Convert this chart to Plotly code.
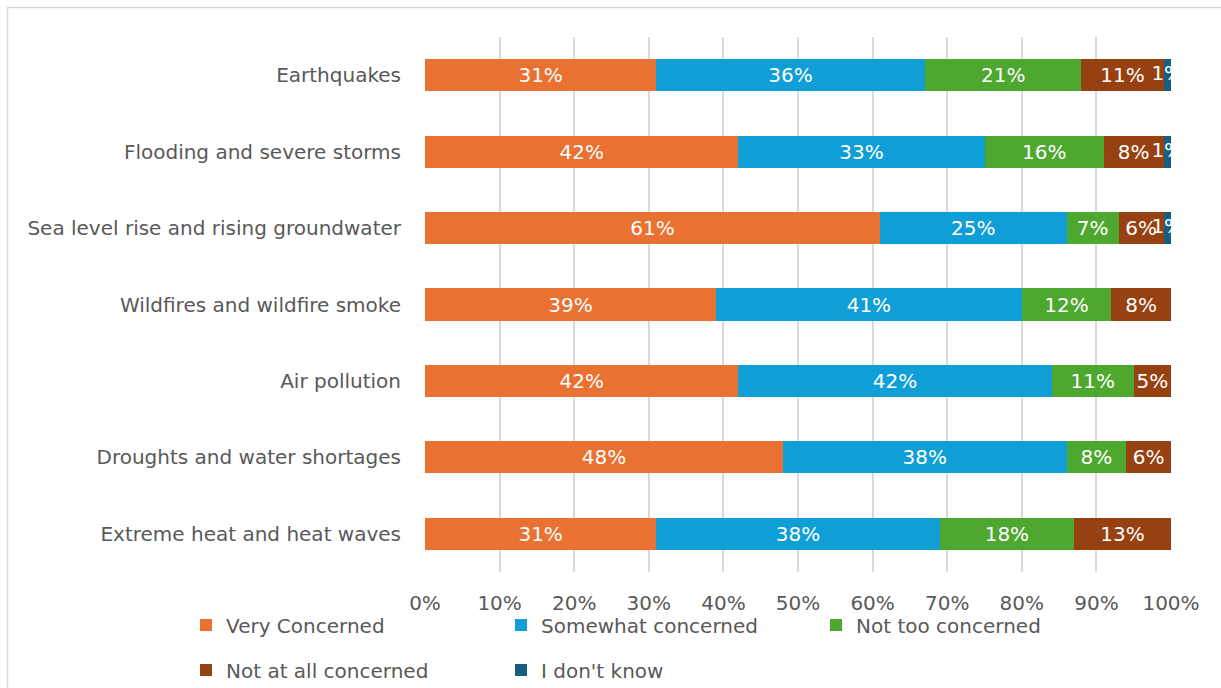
import plotly.graph_objects as go

# Survey categories (top to bottom as shown)
categories = [
    "Earthquakes",
    "Flooding and severe storms",
    "Sea level rise and rising groundwater",
    "Wildfires and wildfire smoke",
    "Air pollution",
    "Droughts and water shortages",
    "Extreme heat and heat waves",
]

# Share of respondents per answer (percent)
very_concerned = [31, 42, 61, 39, 42, 48, 31]
somewhat_concerned = [36, 33, 25, 41, 42, 38, 38]
not_too_concerned = [21, 16, 7, 12, 11, 8, 18]
not_at_all_concerned = [11, 8, 6, 8, 5, 6, 13]
dont_know = [1, 1, 1, 0, 0, 0, 0]

series_names = ["Very Concerned", "Somewhat concerned", "Not too concerned",
                "Not at all concerned", "I don't know"]
series_values = [very_concerned, somewhat_concerned, not_too_concerned,
                 not_at_all_concerned, dont_know]
series_colors = ["#E97132", "#0F9ED5", "#4EA72E", "#974011", "#156082"]

x_ticks = list(range(0, 101, 10))
x_tick_labels = [f"{t}%" for t in x_ticks]

FONT = "DejaVu Sans"
SIZE = 20
GREY = "#595959"

# Plot area in pixels
L, R, T, B = 425, 1171, 37, 572
W, H = R - L, B - T


def px_x(x):
    return (x - L) / W


def px_y(y):
    return (B - y) / H


fig = go.Figure()

legend_of = ["legend", "legend", "legend", "legend2", "legend2"]
for name, vals, color, lg in zip(series_names, series_values, series_colors, legend_of):
    labels = [f"{v}%" if v >= 2 else "" for v in vals]
    fig.add_trace(go.Bar(
        y=categories, x=vals, name=name, orientation="h",
        marker=dict(color=color, line=dict(width=0)),
        text=labels, textposition="inside", insidetextanchor="middle",
        textangle=0, constraintext="none",
        textfont=dict(color="white", size=SIZE, family=FONT),
        legend=lg,
    ))

# Labels for the thin segments, clipped at the plot edge
small_x, small_y, small_t = [], [], []
for i, cat in enumerate(categories):
    start = 0
    for vals in series_values:
        v = vals[i]
        if 0 < v < 2:
            small_x.append(start + v / 2)
            small_y.append(cat)
            small_t.append(f"{v}%")
        start += v
fig.add_trace(go.Scatter(
    x=small_x, y=small_y, text=small_t, mode="text",
    textfont=dict(color="white", size=SIZE, family=FONT),
    cliponaxis=True, showlegend=False, hoverinfo="skip",
))

legend_style = dict(
    orientation="h", xanchor="left", yanchor="middle",
    traceorder="normal",
    entrywidth=270, entrywidthmode="pixels",
    font=dict(size=SIZE, color=GREY, family=FONT),
    itemclick=False, itemdoubleclick=False, bgcolor="rgba(0,0,0,0)",
)

fig.update_layout(
    width=1221, height=688,
    barmode="stack", bargap=0.58,
    margin=dict(l=L, r=1221 - R, t=T, b=688 - B, autoexpand=False),
    paper_bgcolor="white", plot_bgcolor="white",
    font=dict(family=FONT, size=SIZE, color=GREY),
    xaxis=dict(
        range=[0, 100], tickmode="array", tickvals=x_ticks, ticktext=x_tick_labels,
        showgrid=True, gridcolor="#D9D9D9", gridwidth=1.5,
        zeroline=False, showline=False,
        tickfont=dict(size=SIZE, color=GREY, family=FONT),
        ticklabelstandoff=17,
    ),
    yaxis=dict(
        categoryorder="array", categoryarray=categories[::-1],
        showgrid=False, showline=False, zeroline=False,
        tickfont=dict(size=SIZE, color=GREY, family=FONT),
        ticklabelstandoff=23,
    ),
    legend=dict(legend_style, x=px_x(186), y=px_y(625)),
    legend2=dict(legend_style, x=px_x(186), y=px_y(670)),
    shapes=[dict(
        type="rect", xref="paper", yref="paper",
        x0=px_x(7.5), x1=px_x(1260),
        y0=px_y(730), y1=px_y(7.5),
        line=dict(color="#D9D9D9", width=1.5), fillcolor="rgba(0,0,0,0)",
        layer="below",
    )],
)

fig.write_html("out.html")
